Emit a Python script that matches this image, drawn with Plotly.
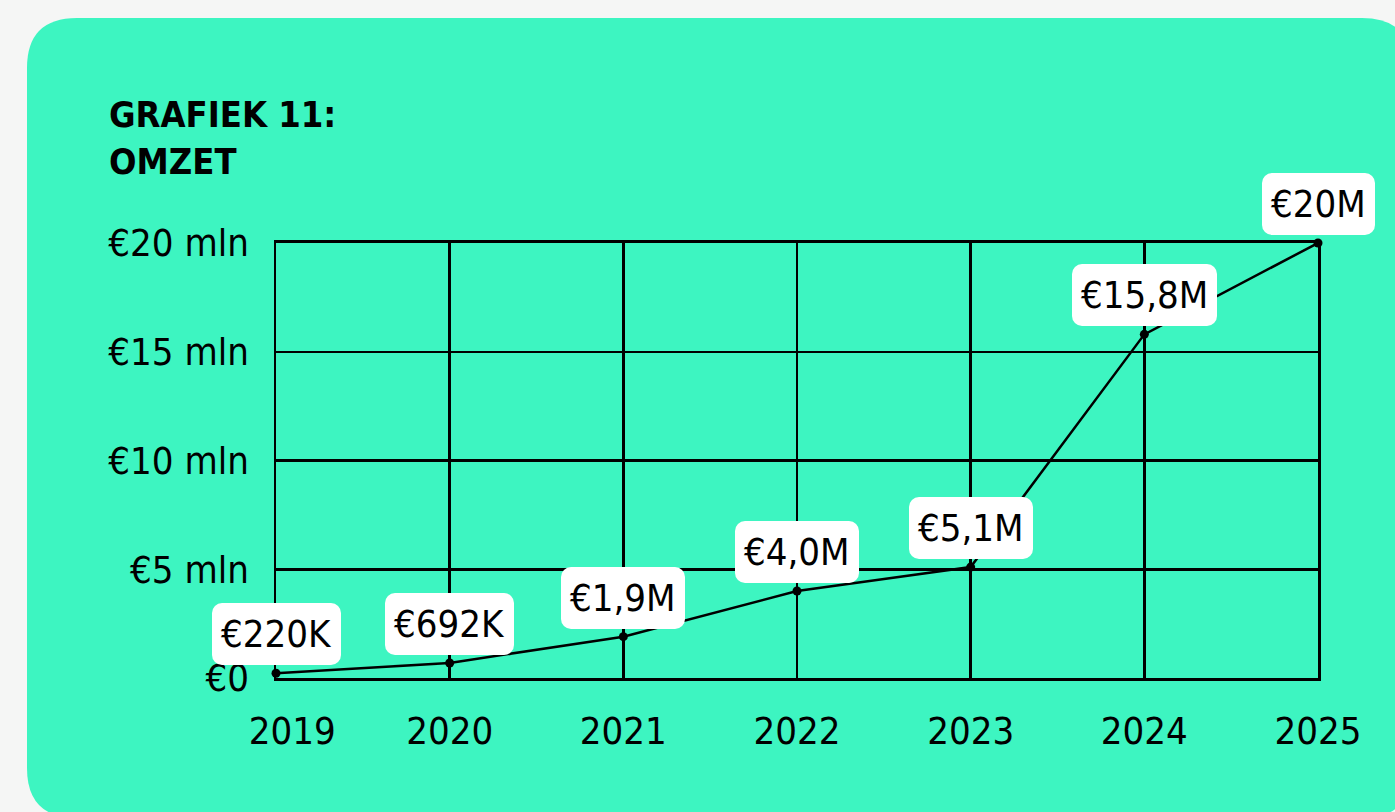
import plotly.graph_objects as go

years = [2019, 2020, 2021, 2022, 2023, 2024, 2025]
revenue_mln = [0.22, 0.692, 1.9, 4.0, 5.1, 15.8, 20.0]
point_labels = ["€220K", "€692K", "€1,9M", "€4,0M", "€5,1M", "€15,8M", "€20M"]
x_ticktext = ["\u00a0\u00a0\u00a02019", "2020", "2021", "2022", "2023", "2024", "2025"]
y_tickvals = [0, 5, 10, 15, 20]
y_ticktext = ["€0", "€5 mln", "€10 mln", "€15 mln", "€20 mln"]
title_lines = ["GRAFIEK 11:", "OMZET"]

W, H = 1395, 812
L, R, T, B = 276, 77, 243, 134
PW, PH = W - L - R, H - T - B
FONT = "DejaVu Sans Condensed, Noto Sans, sans-serif"
GREEN = "#3DF5C1"
GRAY = "#F5F6F5"


def px(x):
    return (x - L) / PW


def py(y):
    return (H - B - y) / PH


fig = go.Figure()
fig.add_trace(go.Scatter(
    x=years, y=revenue_mln, mode="lines+markers",
    line=dict(color="black", width=2.5),
    marker=dict(color="black", size=9),
    cliponaxis=False, hoverinfo="skip",
))

for xv, yv, t in zip(years, revenue_mln, point_labels):
    fig.add_annotation(
        x=xv, y=yv, text=t, showarrow=False, yanchor="bottom", xanchor="center",
        yshift=8, bgcolor="white", borderpad=9, borderwidth=0,
        font=dict(family=FONT, size=38, color="black"),
    )

fig.add_annotation(
    xref="paper", yref="paper", x=px(107), y=py(92), xanchor="left", yanchor="top",
    text="<br>".join(title_lines), showarrow=False, align="left",
    font=dict(family=FONT, size=36, color="black", weight="bold"),
)

# rounded card background
x0, x1, y0, y1, r = 27, 1412, 18, 818, 50
rx, ry = r / PW, r / PH
X0, X1, Y0, Y1 = px(x0), px(x1), py(y0), py(y1)
path = (f"M {X0+rx},{Y0} L {X1-rx},{Y0} Q {X1},{Y0} {X1},{Y0-ry} "
        f"L {X1},{Y1+ry} Q {X1},{Y1} {X1-rx},{Y1} L {X0+rx},{Y1} "
        f"Q {X0},{Y1} {X0},{Y1+ry} L {X0},{Y0-ry} Q {X0},{Y0} {X0+rx},{Y0} Z")
fig.add_shape(type="path", xref="paper", yref="paper", path=path,
              fillcolor=GREEN, line=dict(width=0), layer="below")

fig.update_layout(
    width=W, height=H, margin=dict(l=L, r=R, t=T, b=B),
    paper_bgcolor=GRAY, plot_bgcolor="rgba(0,0,0,0)",
    showlegend=False, hovermode=False,
    font=dict(family=FONT, size=38, color="black"),
)
fig.update_xaxes(
    range=[2019, 2025], tickvals=years, ticktext=x_ticktext,
    showgrid=True, gridcolor="black", gridwidth=2.5,
    showline=True, linecolor="black", linewidth=3, mirror=True,
    zeroline=False, ticks="", ticklabelstandoff=17,
    tickfont=dict(family=FONT, size=38, color="black"),
)
fig.update_yaxes(
    range=[0, 20], tickvals=y_tickvals, ticktext=y_ticktext,
    showgrid=True, gridcolor="black", gridwidth=2.5,
    showline=True, linecolor="black", linewidth=2.5, mirror=True,
    zeroline=False, ticks="", ticklabelstandoff=17,
    tickfont=dict(family=FONT, size=38, color="black"),
)

post = """
document.body.style.margin='0';document.body.style.padding='0';
document.body.style.background='%s';
function rnd(){document.querySelectorAll('g.annotation rect.bg').forEach(function(r){r.setAttribute('rx',10);r.setAttribute('ry',10);});}
rnd(); setTimeout(rnd, 50); setTimeout(rnd, 300);
""" % GRAY
fig.write_html("out.html", post_script=post, config={"displayModeBar": False, "staticPlot": True})
